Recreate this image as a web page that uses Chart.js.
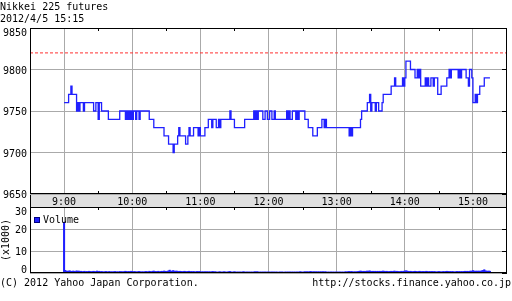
<!DOCTYPE html>
<html><head><meta charset="utf-8">
<script src="https://cdn.jsdelivr.net/npm/chart.js@4.4.0/dist/chart.umd.min.js"></script>
<style>
html,body{margin:0;padding:0;background:#fff;width:512px;height:301px;overflow:hidden;}
canvas{position:absolute;left:0;}
.t{position:absolute;font:10px "DejaVu Sans Mono",monospace;color:#000;white-space:pre;line-height:11px;}
</style></head><body>
<canvas id="pc" width="512" height="208" style="top:0;width:512px;height:208px"></canvas>
<canvas id="vc" width="512" height="80" style="top:200px;width:512px;height:80px"></canvas>
<div class="t" style="left:0;top:1px">Nikkei 225 futures</div>
<div class="t" style="left:0;top:13px">2012/4/5 15:15</div>
<div class="t" style="left:0;top:277px">(C) 2012 Yahoo Japan Corporation.</div>
<div class="t" style="right:1px;top:277px">http://stocks.finance.yahoo.co.jp</div>
<script>
// ---- data ----
const timeLabels = ['9:00','10:00','11:00','12:00','13:00','14:00','15:00'];
const hourMinutes = [0,60,120,180,240,300,360];          // minutes after 9:00
const axisMinutes = [-30,0,30,60,90,120,150,180,210,240,270,300,330,360,390];
const priceTicks = [9650,9700,9750,9800,9850];
const volumeTicks = [0,10,20,30];
const prevClose = 9820;
// price change points: minute after 9:00 -> price from that minute
const priceTimes = [0,4,6,7,11,12,13,14,17,18,26,28,30,31,33,39,49,
  54,55,56,57,58,59,60,61,63,64,66,67,75,79,88,92,96,97,100,101,102,107,109,110,111,114,118,119,120,
  124,127,130,131,134,136,137,138,146,147,150,159,167,168,169,170,171,175,177,179,181,183,185,186,
  196,197,198,199,201,204,205,206,207,212,215,219,223,227,229,230,231,251,252,253,254,261,262,
  267,269,270,271,274,275,277,280,281,288,291,292,298,299,300,301,305,309,311,312,313,314,
  318,319,320,321,323,325,326,329,332,337,339,340,341,347,348,349,350,354,356,357,359,
  360,362,363,364,366,370,375];
const prices = [9760,9770,9780,9770,9750,9760,9750,9760,9750,9760,9750,9760,9740,9760,9750,9740,9750,
  9740,9750,9740,9750,9740,9750,9740,9750,9740,9750,9740,9750,9740,9730,9720,9710,9700,9710,9720,9730,9720,9710,9720,9730,9720,9730,9720,9730,9720,
  9730,9740,9730,9740,9730,9740,9730,9740,9750,9740,9730,9740,9750,9740,9750,9740,9750,9740,9750,9740,9750,9740,9750,9740,
  9750,9740,9750,9740,9750,9740,9750,9740,9750,9740,9730,9720,9730,9740,9730,9740,9730,9720,9730,9720,9730,9740,9750,
  9760,9770,9750,9760,9750,9760,9750,9760,9770,9780,9790,9780,9790,9780,9790,9810,9800,9790,9800,9790,9800,9780,
  9790,9780,9790,9780,9790,9780,9790,9770,9780,9790,9800,9790,9800,9790,9800,9790,9800,9790,9780,9800,9790,
  9760,9770,9760,9770,9780,9790,9790];
// volume per minute (x1000 contracts), starting 9:00
const volumes = [23.1,
  1.2,0.9,0.8,0.9,1.0,0.8,0.7,0.9,0.8,0.7,1.0,0.8,0.9,0.7,0.8,0.6,0.7,0.8,0.6,0.7,0.6,0.8,0.7,0.6,0.7,
  0.8,0.7,0.6,0.9,0.7,0.8,0.6,0.7,0.6,0.5,0.6,0.7,0.5,0.6,0.7,0.5,0.6,0.5,0.6,0.7,0.5,0.6,0.5,0.7,0.6,
  0.6,0.5,0.7,0.8,0.7,0.6,0.7,0.6,0.8,0.7,0.6,0.7,0.6,0.5,0.6,0.7,0.6,0.5,0.6,0.5,0.6,0.7,0.6,0.5,0.8,
  0.7,0.6,0.8,0.9,0.7,0.6,0.7,0.8,0.6,0.7,0.8,0.7,0.9,0.8,0.7,0.8,1.0,1.3,0.9,0.8,1.1,0.9,0.8,0.9,0.8,
  0.7,0.8,0.7,0.6,0.7,0.8,0.7,0.6,0.7,0.8,0.6,0.7,0.6,0.7,0.6,0.5,0.7,0.6,0.7,0.6,0.5,0.6,0.5,0.6,0.5,
  0.6,0.5,0.6,0.5,0.6,0.7,0.5,0.6,0.5,0.4,0.5,0.6,0.5,0.4,0.5,0.6,0.5,0.4,0.5,0.6,0.7,0.5,0.4,0.5,0.6,
  0.5,0.4,0.5,0.4,0.5,0.4,0.5,0.6,0.5,0.4,0.5,0.4,0.5,0.4,0.5,0.4,0.5,0.6,0.5,0.6,0.5,0.4,0.5,0.4,0.5,
  0.4,0.5,0.4,0.5,0.4,0.5,0.4,0.5,0.4,0.5,0.4,0.5,0.4,0.4,0.5,0.4,0.5,0.4,0.4,0.5,0.4,0.5,0.4,0.5,0.4,
  0.5,0.4,0.5,0.4,0.5,0.4,0.5,0.6,0.5,0.4,0.5,0.6,0.5,0.6,0.5,0.6,0.7,0.6,0.5,0.6,0.5,0.6,0.5,0.6,0.5,
  0.6,0.5,0.6,0.5,0.6,0.5,0.4,0.5,0.4,0.5,0.4,0.5,0.4,0.5,0.4,0.5,0.4,0.5,0.4,0.5,0.4,0.5,0.6,0.5,0.6,
  0.7,0.6,0.7,0.6,0.5,0.6,0.5,0.6,0.7,0.8,0.9,0.8,0.7,0.8,0.7,0.8,0.9,0.8,1.0,0.8,0.7,0.8,0.7,0.8,0.7,
  0.8,0.7,0.8,0.7,0.8,0.9,0.8,0.7,0.8,0.7,0.6,0.7,0.8,0.7,0.8,0.9,0.7,0.8,0.7,0.6,0.7,0.8,0.7,0.8,0.9,
  1.0,0.9,0.8,0.7,0.8,0.7,0.6,0.7,0.8,0.7,0.6,0.7,0.8,0.7,0.6,0.7,0.6,0.7,0.8,0.7,0.6,0.7,0.6,0.7,0.6,
  0.7,0.6,0.5,0.6,0.7,0.6,0.5,0.6,0.7,0.6,0.7,0.8,0.7,0.6,0.7,0.6,0.7,0.6,0.5,0.6,0.7,0.6,0.7,0.6,0.7,
  0.6,0.7,0.8,0.7,0.8,0.7,0.8,0.9,0.8,1.1,0.9,0.8,0.9,0.8,0.9,0.8,0.9,1.0,1.2,1.5,1.0,0.9,0.8,0.9,0.8];

// ---- styling ----
const FONT = 'DejaVu Sans Mono';
const BLUE = '#2020ff';
const GRID = '#aaaaaa';
Chart.defaults.font.family = FONT;
Chart.defaults.font.size = 10;
Chart.defaults.color = '#000';

const hourGrid = ctx => (ctx.tick && hourMinutes.includes(ctx.tick.value)) ? GRID : 'rgba(0,0,0,0)';
const setAxisTicks = arr => axis => { axis.ticks = arr.map(v => ({value: v})); };

const framePlugin = {
  id: 'frame',
  beforeDraw(chart, args, o) {
    if (!o.band) return;
    const {ctx, chartArea: a} = chart;
    ctx.save();
    ctx.fillStyle = '#e0e0e0';
    ctx.fillRect(a.left, a.bottom, a.right - a.left, chart.height - a.bottom);
    ctx.strokeStyle = '#000';
    ctx.lineWidth = 1;
    ctx.strokeRect(a.left + 0.5, a.bottom - 0.5, a.right - a.left - 1, chart.height - a.bottom);
    ctx.restore();
  },
  afterDatasetsDraw(chart, args, o) {
    const {ctx, chartArea: a} = chart;
    const xs = chart.scales.x, ys = chart.scales.y;
    ctx.save();
    ctx.strokeStyle = '#000';
    ctx.lineWidth = 1;
    ctx.beginPath();
    xs.ticks.forEach(t => {
      if (hourMinutes.includes(t.value) || t.value <= xs.min || t.value >= xs.max) return;
      const px = Math.round(xs.getPixelForValue(t.value)) + 0.5;
      ctx.moveTo(px, a.top); ctx.lineTo(px, a.top + 3);
      if (o.bottomTicks) { ctx.moveTo(px, a.bottom); ctx.lineTo(px, a.bottom - 3); }
    });
    ys.ticks.forEach(t => {
      const py = Math.round(ys.getPixelForValue(t.value) - 0.5) + 0.5;
      ctx.moveTo(a.right - 5, py); ctx.lineTo(a.right, py);
    });
    ctx.stroke();
    ctx.strokeRect(a.left + 0.5, a.top + 0.5, a.right - a.left - 1, a.bottom - a.top - 1);
    // y tick labels (kept inside panel)
    ctx.font = '10px "' + FONT + '"';
    ctx.fillStyle = '#000';
    ctx.textAlign = 'right';
    ctx.textBaseline = 'alphabetic';
    ys.ticks.forEach(t => {
      let y = ys.getPixelForValue(t.value) + 4;
      y = Math.max(y, a.top + 8);
      if (o.clampBottom) y = Math.min(y, a.bottom);
      ctx.fillText(String(t.value), a.left - 3, Math.round(y));
    });
    // legend inside chart area
    if (o.legend) {
      const ds = chart.data.datasets[0];
      const bx = a.left + 4, by = a.top + 10;
      ctx.fillStyle = ds.backgroundColor;
      ctx.fillRect(bx, by, 6, 6);
      ctx.strokeStyle = '#000080';
      ctx.strokeRect(bx + 0.5, by + 0.5, 5, 5);
      ctx.fillStyle = '#000';
      ctx.textAlign = 'left';
      ctx.fillText(ds.label, bx + 9, by + 6);
    }
    ctx.restore();
  }
};

new Chart(document.getElementById('pc'), {
  type: 'line',
  data: {
    datasets: [
      { label: 'Nikkei 225 futures', data: priceTimes.map((t, i) => ({x: t, y: prices[i]})),
        stepped: true, borderColor: BLUE, borderWidth: 1.3, pointRadius: 0, fill: false },
      { label: 'prev', data: [{x: axisMinutes[0], y: prevClose}, {x: axisMinutes[axisMinutes.length - 1], y: prevClose}],
        borderColor: '#ff3030', borderWidth: 1, borderDash: [3, 2], pointRadius: 0, fill: false }
    ]
  },
  options: {
    responsive: false, animation: false, devicePixelRatio: 1,
    layout: { padding: { top: 28, right: 5, left: 0, bottom: 0 } },
    plugins: { legend: { display: false }, tooltip: { enabled: false },
      frame: { band: true, bottomTicks: true } },
    scales: {
      x: { type: 'linear', min: axisMinutes[0], max: axisMinutes[axisMinutes.length - 1],
        afterBuildTicks: setAxisTicks(axisMinutes),
        afterFit: s => { s.height = 14; },
        ticks: { autoSkip: false, maxRotation: 0, padding: 2, color: '#000',
          callback: v => { const i = hourMinutes.indexOf(v); return i >= 0 ? timeLabels[i] : ''; } },
        grid: { color: hourGrid, drawTicks: false }, border: { display: false } },
      y: { min: priceTicks[0], max: priceTicks[priceTicks.length - 1],
        afterBuildTicks: setAxisTicks(priceTicks),
        afterFit: s => { s.width = 30; },
        ticks: { display: false },
        grid: { color: GRID, drawTicks: false }, border: { display: false } }
    }
  },
  plugins: [framePlugin]
});

new Chart(document.getElementById('vc'), {
  type: 'bar',
  data: {
    datasets: [
      { label: 'Volume', data: volumes.map((v, i) => ({x: hourMinutes[0] + i, y: v})),
        backgroundColor: BLUE, borderWidth: 0, barThickness: 1.4 }
    ]
  },
  options: {
    responsive: false, animation: false, devicePixelRatio: 1,
    layout: { padding: { top: 7, right: 5, left: 0, bottom: 7 } },
    plugins: { legend: { display: false }, tooltip: { enabled: false },
      frame: { legend: true, clampBottom: true } },
    scales: {
      x: { type: 'linear', offset: false, min: axisMinutes[0], max: axisMinutes[axisMinutes.length - 1],
        afterBuildTicks: setAxisTicks(axisMinutes),
        afterFit: s => { s.height = 0; },
        ticks: { display: false },
        grid: { color: hourGrid, drawTicks: false, offset: false }, border: { display: false } },
      y: { min: volumeTicks[0], max: volumeTicks[volumeTicks.length - 1],
        afterBuildTicks: setAxisTicks(volumeTicks),
        afterFit: s => { s.width = 30; },
        ticks: { display: false },
        title: { display: true, text: '(x1000)', padding: { top: 0, bottom: 0 }, color: '#000' },
        grid: { color: GRID, drawTicks: false }, border: { display: false } }
    }
  },
  plugins: [framePlugin]
});
</script>
</body></html>
